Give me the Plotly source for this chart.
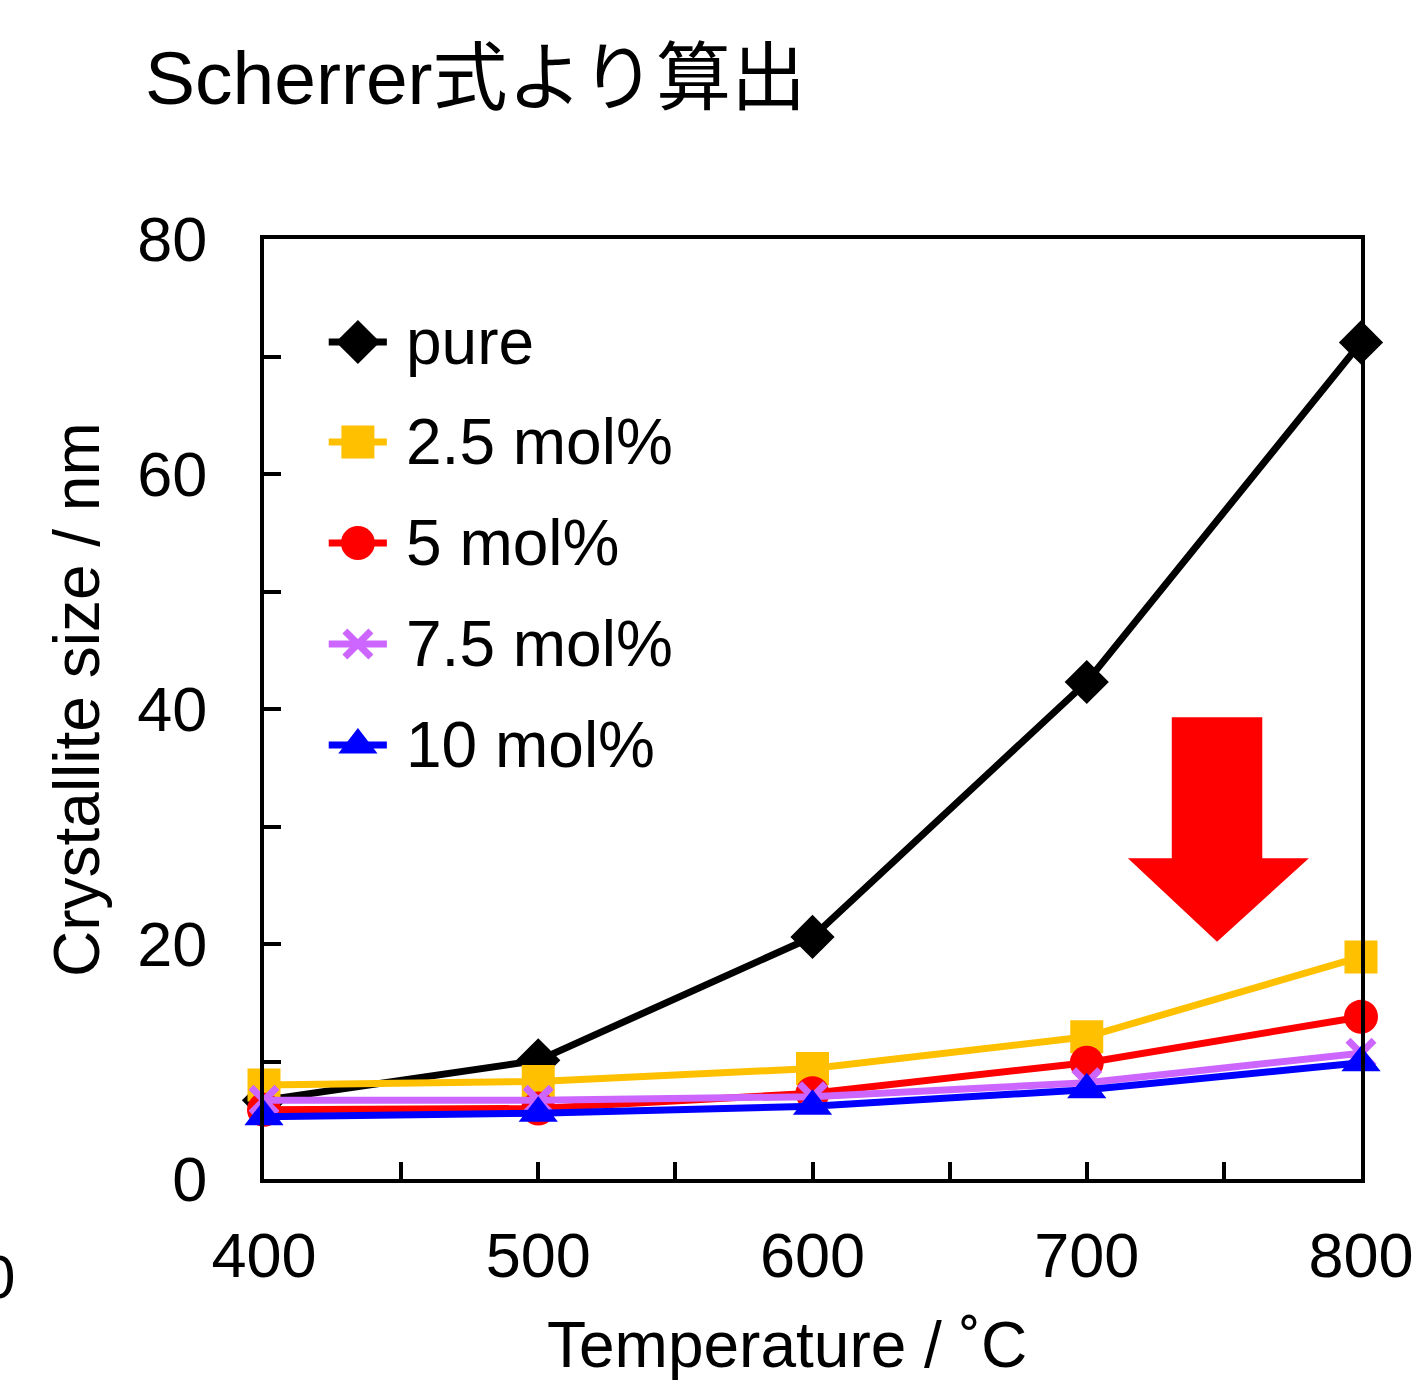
import plotly.graph_objects as go

temps = [400, 500, 600, 700, 800]
pure = [6.7, 10.1, 20.6, 42.3, 71.2]
mol25 = [8.0, 8.3, 9.4, 12.1, 18.9]
mol5 = [5.9, 6.0, 7.3, 9.9, 13.8]
mol75 = [6.7, 6.7, 7.0, 8.2, 10.7]
mol10 = [5.3, 5.6, 6.2, 7.6, 9.9]

names = ["pure", "2.5 mol%", "5 mol%", "7.5 mol%", "10 mol%"]
series = [pure, mol25, mol5, mol75, mol10]
colors = ["#000000", "#FFC000", "#FF0000", "#CC66FF", "#0000FF"]
symbols = ["diamond", "square", "circle", "x-thin", "triangle-up"]
sizes = [34, 33, 34, 26, 34]

# legend layout (fractions of the plot area)
leg_line = [0.059, 0.112]
leg_mark = 0.0856
leg_text = 0.128
leg_rows = [0.8904, 0.7840, 0.6766, 0.5691, 0.4617]

# arrow outline (data coords)
arrow_x = [731, 764, 764, 781, 747.5, 715, 731, 731]
arrow_y = [39.3, 39.3, 27.3, 27.3, 20.2, 27.3, 27.3, 39.3]

FONT = "Liberation Sans, Arial, Noto Sans CJK JP, sans-serif"
L, R, T, B = 264, 55, 239, 207
PW = 1416 - L - R
PH = 1386 - T - B


def marker(i):
    mk = dict(symbol=symbols[i], size=sizes[i], color=colors[i])
    if symbols[i] == "x-thin":
        mk["line"] = dict(color=colors[i], width=7)
    return mk


fig = go.Figure()
for i, (n, s) in enumerate(zip(names, series)):
    fig.add_trace(go.Scatter(
        x=temps, y=s, name=n, mode="lines+markers",
        line=dict(color=colors[i], width=7),
        marker=marker(i), cliponaxis=False, showlegend=False,
    ))

# manual legend on an overlay axis (0..1 over the plot area)
annots = []
for i, n in enumerate(names):
    yy = leg_rows[i]
    fig.add_trace(go.Scatter(
        x=leg_line, y=[yy, yy], mode="lines", line=dict(color=colors[i], width=7),
        xaxis="x2", yaxis="y2", showlegend=False, hoverinfo="skip"))
    fig.add_trace(go.Scatter(
        x=[leg_mark], y=[yy], mode="markers", marker=marker(i),
        xaxis="x2", yaxis="y2", showlegend=False, hoverinfo="skip"))
    annots.append(dict(text=n, xref="paper", yref="paper", x=leg_text, y=yy,
                       xanchor="left", yanchor="middle", showarrow=False,
                       font=dict(size=64)))

path = "M " + " L ".join(f"{x},{y}" for x, y in zip(arrow_x, arrow_y)) + " Z"
fig.add_shape(type="path", path=path, xref="x", yref="y",
              fillcolor="#FF0000", line=dict(width=0), layer="above")

annots += [
    dict(text="Crystallite size / nm", textangle=-90, xref="paper", yref="paper",
         x=(77 - L) / PW, y=(1179 - 700) / PH, xanchor="center", yanchor="middle",
         showarrow=False, font=dict(size=64)),
    dict(text="Temperature / ˚C", xref="paper", yref="paper",
         x=(787 - L) / PW, y=(1179 - 1345) / PH, xanchor="center", yanchor="middle",
         showarrow=False, font=dict(size=64)),
    dict(text="0", xref="paper", yref="paper",
         x=(17 - L) / PW, y=(1179 - 1276) / PH, xanchor="right", yanchor="middle",
         showarrow=False, font=dict(size=62)),
]

tick_common = dict(ticks="inside", ticklen=17, tickwidth=4, tickcolor="black",
                   showline=True, linewidth=4, linecolor="black", mirror=True,
                   showgrid=False, zeroline=False, tickfont=dict(size=63),
                   automargin=False, ticklabeloverflow="allow")

fig.update_layout(
    width=1416, height=1386,
    margin=dict(l=L, r=R, t=T, b=B),
    paper_bgcolor="white", plot_bgcolor="white",
    font=dict(family=FONT, size=60, color="black"),
    title=dict(text="Scherrer式より算出", font=dict(size=75, family=FONT),
               x=145 / 1416, xanchor="left", xref="container",
               y=1 - 78 / 1386, yanchor="middle", yref="container"),
    showlegend=False,
    xaxis=dict(range=[400, 800], tickvals=[400, 500, 600, 700, 800],
               minor=dict(dtick=50, ticks="inside", ticklen=17, tickwidth=4, tickcolor="black"),
               ticklabelstandoff=18, **tick_common),
    yaxis=dict(range=[0, 80], tickvals=[0, 20, 40, 60, 80],
               minor=dict(dtick=10, ticks="inside", ticklen=17, tickwidth=4, tickcolor="black"),
               ticklabelstandoff=40, **tick_common),
    xaxis2=dict(range=[0, 1], overlaying="x", anchor="y2", visible=False, fixedrange=True),
    yaxis2=dict(range=[0, 1], overlaying="y", anchor="x2", visible=False, fixedrange=True),
    annotations=annots,
)

fig.write_html("out.html")
